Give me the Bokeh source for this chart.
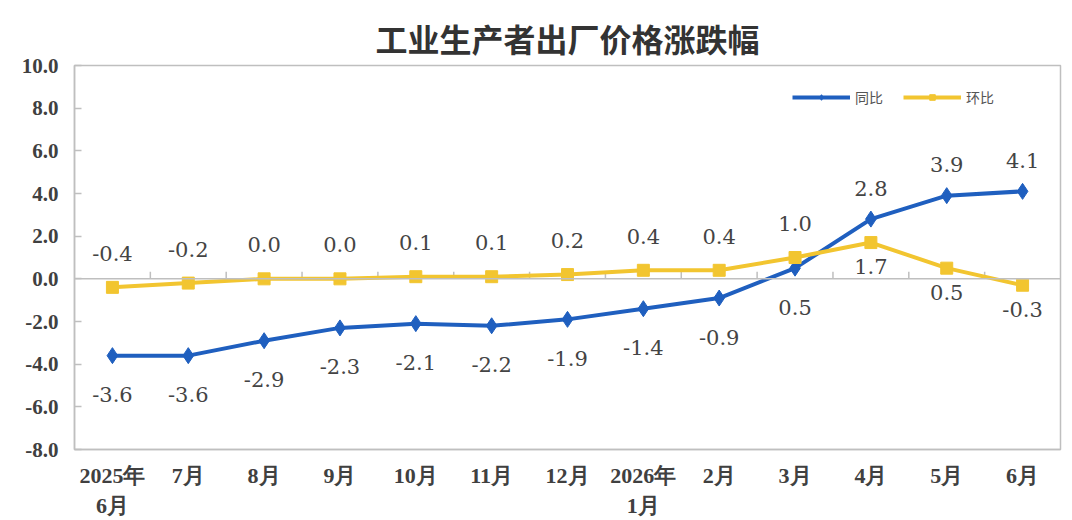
from bokeh.plotting import figure
from bokeh.models import (Range1d, FixedTicker, Span, Label, ColumnDataSource,
                          NumeralTickFormatter, Legend, LegendItem)
from bokeh.core.properties import value
from bokeh.embed import file_html
from bokeh.resources import INLINE

months = ["2025年\n6月", "7月", "8月", "9月", "10月", "11月", "12月",
          "2026年\n1月", "2月", "3月", "4月", "5月", "6月"]
yoy = [-3.6, -3.6, -2.9, -2.3, -2.1, -2.2, -1.9, -1.4, -0.9, 0.5, 2.8, 3.9, 4.1]
mom = [-0.4, -0.2, 0.0, 0.0, 0.1, 0.1, 0.2, 0.4, 0.4, 1.0, 1.7, 0.5, -0.3]
y_ticks = [-8, -6, -4, -2, 0, 2, 4, 6, 8, 10]

BLUE = "#1F5FBF"
YELLOW = "#F2C530"
GRAY = "#BFBFBF"
SERIF = "Liberation Serif"

xs = list(range(len(months)))

p = figure(width=1064, height=520, output_backend="svg", toolbar_location=None,
           x_range=Range1d(-0.5, len(months) - 0.5), y_range=Range1d(-8, 10),
           min_border_left=74, min_border_right=4, min_border_top=65,
           min_border_bottom=66)

p.title.text = "工业生产者出厂价格涨跌幅"
p.title.align = "center"
p.title.text_font = "Noto Sans CJK SC"
p.title.text_font_size = "32px"
p.title.text_font_style = "bold"
p.title.text_color = "#333333"
p.title.standoff = 9

p.outline_line_color = GRAY
p.outline_line_width = 1.5
p.xgrid.visible = False
p.ygrid.visible = False

p.yaxis.ticker = FixedTicker(ticks=y_ticks)
p.yaxis.formatter = NumeralTickFormatter(format="0.0")
p.yaxis.axis_line_color = GRAY
p.yaxis.axis_line_width = 1.5
p.yaxis.major_tick_line_color = GRAY
p.yaxis.major_tick_line_width = 1.5
p.yaxis.major_tick_in = 7
p.yaxis.major_tick_out = 0
p.yaxis.minor_tick_line_color = None
p.yaxis.major_label_text_font = SERIF
p.yaxis.major_label_text_font_style = "bold"
p.yaxis.major_label_text_font_size = "21px"
p.yaxis.major_label_text_color = "#404040"
p.yaxis.major_label_standoff = 16

p.xaxis.ticker = FixedTicker(ticks=xs)
p.xaxis.major_label_overrides = {i: m for i, m in zip(xs, months)}
p.xaxis.axis_line_color = GRAY
p.xaxis.axis_line_width = 1.5
p.xaxis.major_tick_line_color = None
p.xaxis.minor_tick_line_color = None
p.xaxis.major_label_text_font = SERIF
p.xaxis.major_label_text_font_style = "bold"
p.xaxis.major_label_text_font_size = "22px"
p.xaxis.major_label_text_color = "#404040"
p.xaxis.major_label_standoff = 7

# zero line with category-boundary ticks
p.add_layout(Span(location=0, dimension="width", line_color=GRAY, line_width=1.5))
bx = [i + 0.5 for i in xs[:-1]]
p.segment(x0=bx, y0=[0] * len(bx), x1=bx, y1=[0.33] * len(bx),
          line_color=GRAY, line_width=1.5)

# series
l1 = p.line(xs, yoy, line_color=BLUE, line_width=4)
s1 = p.scatter(xs, yoy, marker="diamond", size=16, fill_color=BLUE, line_color=BLUE)
l2 = p.line(xs, mom, line_color=YELLOW, line_width=4)
s2 = p.scatter(xs, mom, marker="square", size=12, fill_color=YELLOW, line_color=YELLOW)

legend = Legend(items=[LegendItem(label="同比", renderers=[l1, s1]),
                       LegendItem(label="环比", renderers=[l2, s2])],
                orientation="horizontal", location=(718, 342),
                glyph_width=58, glyph_height=14, label_standoff=5, spacing=20,
                padding=0, margin=0, border_line_color=None,
                background_fill_alpha=0,
                label_text_font="Noto Sans CJK SC", label_text_font_size="14px",
                label_text_color="#555555")
p.add_layout(legend)


def fmt(v):
    return f"{v:.1f}"


# data labels: placed on the side away from the other series
blue_off = [-31 if a > b else 39 for a, b in zip(yoy, mom)]
yel_off = [-34 if b >= a else 24 for a, b in zip(yoy, mom)]

src_b = ColumnDataSource(dict(x=xs, y=yoy, t=[fmt(v) for v in yoy], off=blue_off))
src_y = ColumnDataSource(dict(x=xs, y=mom, t=[fmt(v) for v in mom], off=yel_off))
for src in (src_b, src_y):
    p.text(x="x", y="y", text="t", y_offset="off", source=src,
           text_align="center", text_baseline="middle",
           text_font=value("DejaVu Serif"), text_font_size="21px",
           text_color="#444444")

p.add_layout(Label(x=-48, y=389 + 29, x_units="screen", y_units="screen",
                   text="(%)", text_font=SERIF, text_font_style="bold",
                   text_font_size="21px", text_color="#404040",
                   text_align="left", text_baseline="middle"))

open("out.html", "w").write(file_html(p, INLINE))
